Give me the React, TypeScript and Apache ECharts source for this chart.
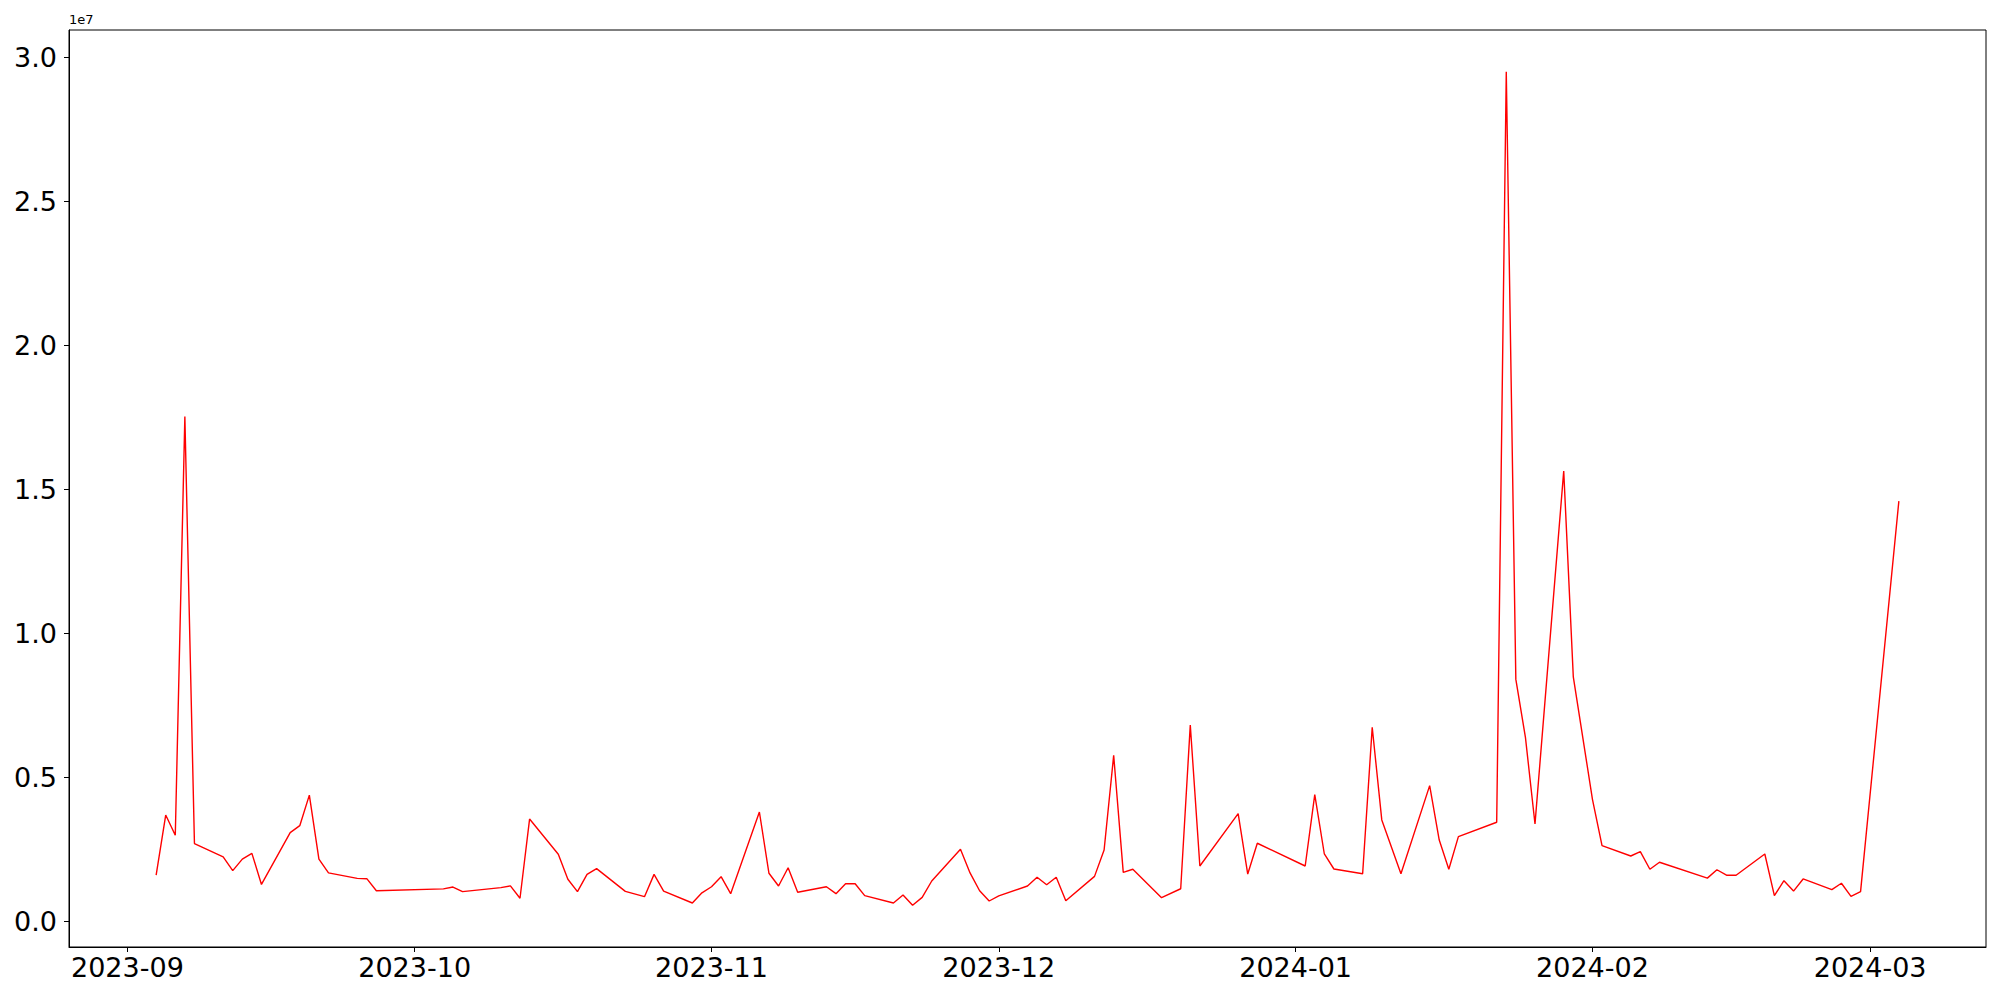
import React, { useEffect, useRef } from "react";
import * as echarts from "echarts";

const dates: string[] = [
  "2023-09-04", "2023-09-05", "2023-09-06", "2023-09-07", "2023-09-08",
  "2023-09-11", "2023-09-12", "2023-09-13", "2023-09-14", "2023-09-15",
  "2023-09-18", "2023-09-19", "2023-09-20", "2023-09-21", "2023-09-22",
  "2023-09-25", "2023-09-26", "2023-09-27",
  "2023-10-04", "2023-10-05", "2023-10-06",
  "2023-10-10", "2023-10-11", "2023-10-12", "2023-10-13",
  "2023-10-16", "2023-10-17", "2023-10-18", "2023-10-19", "2023-10-20",
  "2023-10-23", "2023-10-25", "2023-10-26", "2023-10-27",
  "2023-10-30", "2023-10-31", "2023-11-01", "2023-11-02", "2023-11-03",
  "2023-11-06", "2023-11-07", "2023-11-08", "2023-11-09", "2023-11-10",
  "2023-11-13", "2023-11-14", "2023-11-15", "2023-11-16", "2023-11-17",
  "2023-11-20", "2023-11-21", "2023-11-22", "2023-11-23", "2023-11-24",
  "2023-11-27", "2023-11-28", "2023-11-29", "2023-11-30", "2023-12-01",
  "2023-12-04", "2023-12-05", "2023-12-06", "2023-12-07", "2023-12-08",
  "2023-12-11", "2023-12-12", "2023-12-13", "2023-12-14", "2023-12-15",
  "2023-12-18", "2023-12-20", "2023-12-21", "2023-12-22",
  "2023-12-26", "2023-12-27", "2023-12-28",
  "2024-01-02", "2024-01-03", "2024-01-04", "2024-01-05",
  "2024-01-08", "2024-01-09", "2024-01-10", "2024-01-12",
  "2024-01-15", "2024-01-16", "2024-01-17", "2024-01-18",
  "2024-01-22", "2024-01-23", "2024-01-24", "2024-01-25", "2024-01-26",
  "2024-01-29", "2024-01-30", "2024-02-01", "2024-02-02",
  "2024-02-05", "2024-02-06", "2024-02-07", "2024-02-08",
  "2024-02-13", "2024-02-14", "2024-02-15", "2024-02-16",
  "2024-02-19", "2024-02-20", "2024-02-21", "2024-02-22", "2024-02-23",
  "2024-02-26", "2024-02-27", "2024-02-28", "2024-02-29",
  "2024-03-04",
];

const values: number[] = [
  1600000, 3690000, 2990000, 17530000, 2700000,
  2240000, 1760000, 2160000, 2360000, 1280000,
  3080000, 3320000, 4380000, 2160000, 1680000,
  1490000, 1480000, 1060000,
  1125000, 1190000, 1030000,
  1170000, 1230000, 800000, 3550000,
  2330000, 1460000, 1030000, 1630000, 1830000,
  1040000, 855000, 1630000, 1050000,
  635000, 990000, 1200000, 1550000, 960000,
  3795000, 1667000, 1226000, 1860000, 1007000,
  1200000, 960000, 1306000, 1306000, 890000,
  635000, 913000, 555000, 830000, 1400000,
  2500000, 1680000, 1060000, 705000, 880000,
  1226000, 1530000, 1270000, 1530000, 715000,
  1560000, 2476000, 5760000, 1700000, 1806000,
  820000, 1130000, 6816000, 1920000,
  3736000, 1640000, 2710000,
  1920000, 4396000, 2337000, 1816000,
  1653000, 6736000, 3520000, 1653000,
  4710000, 2820000, 1806000, 2940000,
  3440000, 29500000, 8400000, 6390000, 3380000,
  15635000, 8490000, 4236000, 2626000,
  2267000, 2417000, 1806000, 2050000,
  1500000, 1790000, 1600000, 1600000,
  2337000, 890000, 1410000, 1050000, 1470000,
  1100000, 1320000, 868000, 1030000,
  14590000,
];

const monthTicks: string[] = [
  "2023-09-01", "2023-10-01", "2023-11-01", "2023-12-01",
  "2024-01-01", "2024-02-01", "2024-03-01",
];

const yTicks: number[] = [0, 5000000, 10000000, 15000000, 20000000, 25000000, 30000000];

export default function App() {
  const ref = useRef<HTMLDivElement>(null);

  useEffect(() => {
    if (!ref.current) return;
    const chart = echarts.init(ref.current, undefined, { renderer: "svg" });

    const ts = dates.map((d) => Date.parse(d));
    const t0 = Math.min(...ts);
    const t1 = Math.max(...ts);
    const xMargin = 0.05 * (t1 - t0);
    const vMin = Math.min(...values);
    const vMax = Math.max(...values);
    const yMargin = 0.05 * (vMax - vMin);
    const monthTs = monthTicks.map((d) => Date.parse(d));
    const font = "DejaVu Sans";

    chart.setOption({
      animation: false,
      backgroundColor: "#ffffff",
      grid: {
        left: 69,
        right: 14,
        top: 30,
        bottom: 53,
        show: true,
        borderColor: "#000000",
        borderWidth: 1,
        backgroundColor: "transparent",
      },
      xAxis: {
        type: "value",
        min: t0 - xMargin,
        max: t1 + xMargin,
        axisLine: { show: true, onZero: false, lineStyle: { color: "#000000", width: 1 } },
        axisTick: {
          show: true,
          customValues: monthTs,
          length: 5,
          lineStyle: { color: "#000000", width: 1 },
        },
        axisLabel: {
          show: true,
          customValues: monthTs,
          fontSize: 27,
          fontFamily: font,
          color: "#000000",
          margin: 7,
          formatter: (v: number) => {
            const d = new Date(v);
            const m = d.getUTCMonth() + 1;
            return d.getUTCFullYear() + "-" + (m < 10 ? "0" + m : "" + m);
          },
        },
        splitLine: { show: false },
      },
      yAxis: {
        type: "value",
        min: vMin - yMargin,
        max: vMax + yMargin,
        axisLine: { show: true, onZero: false, lineStyle: { color: "#000000", width: 1 } },
        axisTick: {
          show: true,
          customValues: yTicks,
          length: 5,
          lineStyle: { color: "#000000", width: 1 },
        },
        axisLabel: {
          show: true,
          customValues: yTicks,
          fontSize: 27,
          fontFamily: font,
          color: "#000000",
          margin: 12,
          formatter: (v: number) => (v / 1e7).toFixed(1),
        },
        splitLine: { show: false },
      },
      graphic: [
        {
          type: "text",
          left: 69,
          top: 13,
          style: {
            text: "1e7",
            fontSize: 13,
            fontFamily: font,
            fill: "#000000",
          },
        },
      ],
      series: [
        {
          type: "line",
          data: ts.map((t, i) => [t, values[i]]),
          showSymbol: false,
          symbol: "none",
          lineStyle: { color: "#ff0000", width: 1.4 },
          itemStyle: { color: "#ff0000" },
        },
      ],
    });

    return () => {
      chart.dispose();
    };
  }, []);

  return (
    <div
      ref={ref}
      style={{ position: "absolute", left: 0, top: 0, width: 2000, height: 1000 }}
    />
  );
}
